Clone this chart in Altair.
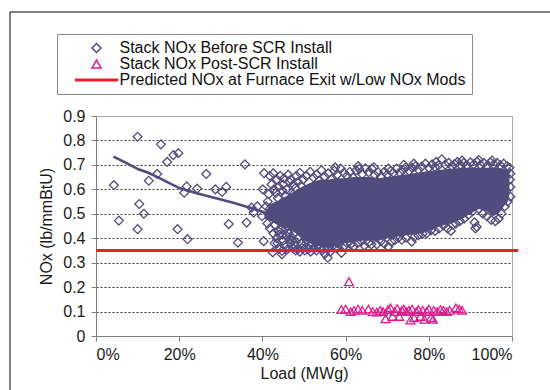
import altair as alt
import pandas as pd

SERIES = [
    "Stack NOx Before SCR Install",
    "Stack NOx Post-SCR Install",
    "Predicted NOx at Furnace Exit w/Low NOx Mods",
]
PURPLE, PINK, RED = "#524C7E", "#E4178E", "#E8202A"
FONT = "Liberation Sans"

# Stack NOx before the SCR: scattered low-load readings (load %, lb/mmBtu)
pre_sparse = [
    (4.3, 0.617), (5.5, 0.472), (10.0, 0.815), (10.4, 0.540), (11.5, 0.500),
    (10.0, 0.437), (12.7, 0.635), (14.7, 0.663), (15.6, 0.784), (17.1, 0.712),
    (18.6, 0.740), (19.8, 0.748), (19.6, 0.437), (22.0, 0.396), (21.8, 0.612),
    (21.2, 0.586), (24.3, 0.603), (26.5, 0.663), (28.7, 0.600), (30.3, 0.589),
    (31.3, 0.610), (31.9, 0.458), (34.1, 0.382), (35.8, 0.702), (36.2, 0.464),
    (37.4, 0.525), (37.9, 0.505), (38.8, 0.530), (39.9, 0.490), (40.1, 0.600),
    (40.3, 0.388), (40.4, 0.666),
]

# ragged left end of the high-load cloud
pre_left = [
    (41.5, 0.58), (41.3, 0.55), (40.9, 0.53), (41.8, 0.52), (41.2, 0.46),
    (41.8, 0.44), (42.2, 0.62), (42.8, 0.60), (43.2, 0.585), (43.9, 0.61),
    (44.8, 0.595), (45.5, 0.575), (46.2, 0.66), (46.8, 0.64), (47.5, 0.62),
    (48.5, 0.63), (42.6, 0.42), (43.4, 0.40), (44.1, 0.415), (45.0, 0.39),
    (45.8, 0.41), (46.5, 0.395), (47.2, 0.39), (48.0, 0.385), (43.0, 0.455),
    (44.5, 0.435), (42.5, 0.342), (43.7, 0.565), (45.2, 0.645), (47.9, 0.605),
    (49.3, 0.615), (44.0, 0.47), (46.0, 0.45), (47.6, 0.42),
    (42.9, 0.38), (43.8, 0.43), (44.9, 0.415), (45.6, 0.44), (46.3, 0.42),
    (47.0, 0.405), (47.8, 0.37), (48.6, 0.40), (49.3, 0.38), (50.0, 0.37),
    (50.7, 0.39), (51.3, 0.37), (52.0, 0.38), (53.3, 0.37), (54.8, 0.36),
    (56.0, 0.36), (58.0, 0.38),
]

# upper edge of the high-load cloud
pre_top = [
    (41.8, 0.655), (42.6, 0.666), (43.5, 0.64), (44.3, 0.655), (45.0, 0.62),
    (45.8, 0.60), (46.5, 0.63), (47.4, 0.58), (48.2, 0.655), (49.0, 0.668),
    (49.8, 0.64), (50.6, 0.655), (51.5, 0.672), (52.3, 0.648), (53.0, 0.66),
    (53.6, 0.635), (54.2, 0.678), (55.0, 0.652), (55.8, 0.665), (56.6, 0.64),
    (57.3, 0.676), (58.0, 0.66), (58.8, 0.685), (59.6, 0.668), (60.3, 0.655),
    (61.0, 0.672), (61.8, 0.648), (62.5, 0.678), (63.3, 0.683), (64.0, 0.662),
    (64.8, 0.686), (65.5, 0.67), (66.3, 0.684), (67.0, 0.658), (67.8, 0.67),
    (68.5, 0.652), (69.3, 0.672), (70.0, 0.66), (70.8, 0.675), (71.5, 0.668),
    (72.3, 0.685), (73.0, 0.67), (73.8, 0.678), (74.5, 0.69), (75.3, 0.675),
    (76.0, 0.688), (76.8, 0.695), (77.5, 0.68), (78.3, 0.693), (79.2, 0.705),
    (80.0, 0.688), (80.8, 0.702), (81.5, 0.692), (82.3, 0.698), (83.1, 0.723),
    (84.0, 0.70), (84.8, 0.708), (85.5, 0.695), (86.2, 0.703), (86.9, 0.712),
    (87.6, 0.70), (88.4, 0.708), (89.2, 0.698), (90.0, 0.71), (90.8, 0.702),
    (91.6, 0.712), (92.4, 0.70), (93.2, 0.708), (94.0, 0.696), (94.8, 0.71),
    (95.6, 0.702), (96.4, 0.708), (97.2, 0.698), (98.0, 0.705), (98.8, 0.695),
    (99.4, 0.688), (99.6, 0.665), (99.5, 0.64), (99.6, 0.61),
    (57.5, 0.69), (63.0, 0.695), (66.8, 0.69), (70.3, 0.685), (74.0, 0.70),
    (76.4, 0.705), (81.8, 0.712), (88.0, 0.718), (92.0, 0.72), (95.2, 0.718),
]

# lower edge of the high-load cloud
pre_bottom = [
    (43.6, 0.38), (44.2, 0.36), (44.7, 0.334), (44.7, 0.348), (45.3, 0.37),
    (46.0, 0.355), (46.8, 0.38), (47.3, 0.36), (48.0, 0.35), (48.5, 0.355),
    (49.0, 0.345), (49.5, 0.36), (50.2, 0.35), (51.0, 0.355), (51.6, 0.345),
    (52.3, 0.36), (53.0, 0.35), (53.7, 0.36), (54.4, 0.35), (55.0, 0.335),
    (55.7, 0.32), (56.3, 0.345), (57.0, 0.37), (57.8, 0.36), (58.5, 0.375),
    (59.0, 0.34), (59.8, 0.37), (60.3, 0.38), (61.2, 0.375), (62.0, 0.368),
    (62.9, 0.38), (63.8, 0.388), (64.5, 0.37), (65.5, 0.382), (66.2, 0.375),
    (67.5, 0.375), (68.5, 0.388), (69.3, 0.378), (70.3, 0.366), (71.0, 0.385),
    (71.8, 0.392), (72.7, 0.402), (73.5, 0.394), (74.5, 0.402), (75.9, 0.386),
    (76.5, 0.405), (77.5, 0.412), (78.5, 0.418), (79.5, 0.42), (80.5, 0.432),
    (81.0, 0.47), (81.5, 0.43), (82.5, 0.44), (83.5, 0.452), (84.5, 0.44),
    (85.3, 0.43), (85.8, 0.455), (86.5, 0.46), (87.5, 0.47), (88.5, 0.48),
    (89.5, 0.495), (90.5, 0.51), (91.0, 0.465), (91.2, 0.44), (91.5, 0.447),
    (92.0, 0.52), (93.0, 0.50), (94.0, 0.49), (95.0, 0.475), (96.0, 0.47),
    (96.8, 0.48), (97.5, 0.50), (98.3, 0.53), (99.0, 0.55), (99.6, 0.57),
]

# solid core of the overlapping cloud: load %, lower and upper NOx
core_load = [40.5, 42, 44, 46, 48, 50, 52, 54, 56, 58, 60, 62, 64, 66, 68, 70,
             72, 74, 76, 78, 80, 82, 84, 86, 88, 90, 92, 94, 95.5, 96.5, 97.5,
             99, 99.4]
core_low = [0.48, 0.47, 0.45, 0.44, 0.42, 0.39, 0.375, 0.365, 0.36, 0.37, 0.38,
            0.385, 0.39, 0.39, 0.39, 0.40, 0.405, 0.41, 0.415, 0.42, 0.43,
            0.445, 0.455, 0.465, 0.48, 0.50, 0.52, 0.51, 0.49, 0.50, 0.52,
            0.55, 0.58]
core_high = [0.50, 0.54, 0.555, 0.575, 0.595, 0.615, 0.63, 0.64, 0.64, 0.645,
             0.645, 0.65, 0.65, 0.65, 0.645, 0.65, 0.655, 0.66, 0.665, 0.67,
             0.675, 0.678, 0.682, 0.685, 0.688, 0.688, 0.688, 0.688, 0.688,
             0.688, 0.685, 0.68, 0.67]

# Stack NOx after the SCR went in
post_scr = [
    (60.8, 0.222), (59.0, 0.108), (60.0, 0.11), (61.2, 0.10), (62.0, 0.105),
    (63.0, 0.11), (64.0, 0.105), (65.5, 0.11), (66.5, 0.10), (67.5, 0.098),
    (68.3, 0.105), (69.0, 0.10), (69.6, 0.07), (70.2, 0.108), (70.8, 0.115),
    (71.3, 0.08), (71.8, 0.10), (72.4, 0.112), (72.9, 0.08), (73.5, 0.105),
    (74.0, 0.11), (74.6, 0.10), (75.2, 0.105), (75.6, 0.065), (76.0, 0.11),
    (76.5, 0.075), (77.0, 0.10), (77.5, 0.108), (78.0, 0.08), (78.5, 0.105),
    (79.0, 0.068), (79.5, 0.10), (80.0, 0.11), (80.5, 0.075), (81.0, 0.068),
    (81.2, 0.105), (82.0, 0.10), (82.8, 0.108), (83.5, 0.105), (84.3, 0.10),
    (85.0, 0.105), (86.5, 0.115), (87.3, 0.11), (88.0, 0.105),
]

# trend through the pre-SCR readings
trend_load = [4.2, 7.0, 10.2, 12.6, 15.4, 18.0, 20.2, 24.2, 29.8, 33.0, 36.2, 39.0, 41.0, 42.0]
trend_nox = [0.734, 0.71, 0.682, 0.668, 0.645, 0.622, 0.604, 0.584, 0.559, 0.545, 0.529, 0.515, 0.502, 0.498]

# predicted furnace-exit NOx with low-NOx modifications
pred_load = [0, 101.5]
pred_nox = [0.35, 0.35]

x_ticks = [0, 20, 40, 60, 80, 100]
y_ticks = [0, 0.1, 0.2, 0.3, 0.4, 0.5, 0.6, 0.7, 0.8, 0.9]

pre_pts = pre_sparse + pre_left + pre_top + pre_bottom
points_df = pd.DataFrame(
    [(l, n, SERIES[0]) for l, n in pre_pts] + [(l, n, SERIES[1]) for l, n in post_scr],
    columns=["load", "nox", "series"],
)
core_df = pd.DataFrame({"load": core_load, "low": core_low, "high": core_high})
trend_df = pd.DataFrame({"load": trend_load, "nox": trend_nox})
pred_df = pd.DataFrame({"load": pred_load, "nox": pred_nox})

x_scale = alt.Scale(domain=[0, 100], nice=False, zero=False)
y_scale = alt.Scale(domain=[0, 0.9], nice=False)

x_axis = alt.Axis(
    values=x_ticks, labelExpr="datum.value + '%'", title="Load (MWg)", grid=False,
    tickSize=5, labelPadding=5, titlePadding=3,
)
y_axis = alt.Axis(
    values=y_ticks, format="~g", title="NOx (lb/mmBtU)", grid=True,
    gridColor={"condition": {"test": "datum.value > 0.85 || datum.value < 0.05",
                             "value": "rgba(0,0,0,0)"}, "value": "#3a3a3a"},
    gridDash=[2, 2], tickSize=5, labelPadding=6, titlePadding=8,
)

X = alt.X("load:Q", scale=x_scale, axis=x_axis)
Y = alt.Y("nox:Q", scale=y_scale, axis=y_axis)

legend = alt.Legend(
    title=None, orient="none", legendX=-39, legendY=-82, padding=6,
    strokeColor="#8C8C8C", fillColor="white", labelFont=FONT, labelFontSize=16,
    labelColor="#111111", symbolSize=81, symbolStrokeWidth=1.5,
    symbolOffset=25.5, labelOffset=15, rowPadding=0, labelLimit=0,
)
color = alt.Color("series:N", scale=alt.Scale(domain=SERIES, range=[PURPLE, PINK, RED]), legend=legend)
shape = alt.Shape(
    "series:N",
    scale=alt.Scale(domain=SERIES, range=["diamond", "triangle-up",
                                          "M-4.65,-0.17L4.65,-0.17L4.65,0.17L-4.65,0.17Z"]),
    legend=legend,
)

frame = alt.Chart(pd.DataFrame({"k": [0]})).mark_rect(
    fill=None, stroke="#000000", strokeWidth=1
).encode(x=alt.value(-86), x2=alt.value(470), y=alt.value(-104), y2=alt.value(290))

core = alt.Chart(core_df).mark_area(color=PURPLE, opacity=1).encode(
    x=X, y=alt.Y("low:Q", scale=y_scale, axis=y_axis), y2="high:Q"
)

points = alt.Chart(points_df).mark_point(filled=False, size=78, strokeWidth=1.3, opacity=1).encode(
    x=X, y=Y, color=color, shape=shape
)

trend = alt.Chart(trend_df).mark_line(color=PURPLE, strokeWidth=2.6).encode(x=X, y=Y)

pred = alt.Chart(pred_df).mark_line(color=RED, strokeWidth=3).encode(x=X, y=Y)

chart = (
    alt.layer(frame, core, points, trend, pred)
    .properties(
        width=416, height=220,
        autosize=alt.AutoSizeParams(type="none"),
        padding={"left": 96, "top": 116, "right": 38, "bottom": 54},
        background="white",
    )
    .configure_view(stroke="#ADA5A5", strokeWidth=1)
    .configure_axis(
        labelFont=FONT, titleFont=FONT, labelFontSize=16, titleFontSize=16,
        titleFontWeight="normal", labelColor="#1a1a1a", titleColor="#1a1a1a",
        domainColor="#808080", tickColor="#808080",
    )
)

chart.save("out.html", embed_options={"renderer": "svg", "actions": False})
